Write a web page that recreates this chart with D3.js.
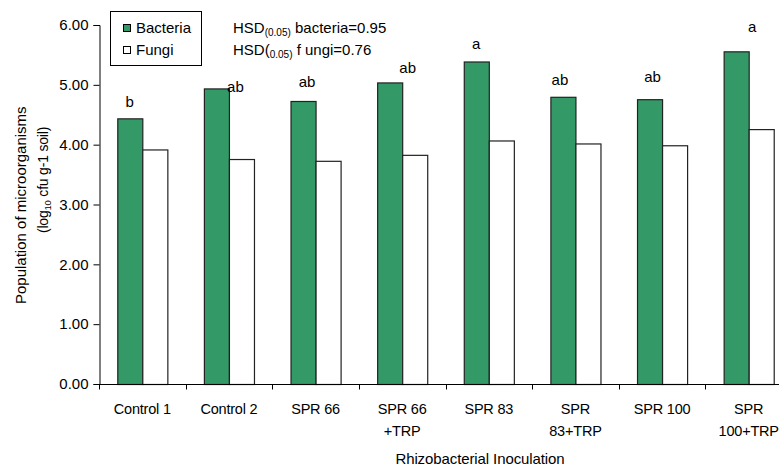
<!DOCTYPE html>
<html>
<head>
<meta charset="utf-8">
<script src="https://cdn.jsdelivr.net/npm/d3@7"></script>
<style>
  html, body { margin: 0; padding: 0; background: #fff; }
  svg { display: block; font-family: "Liberation Sans", Arial, sans-serif; }
</style>
</head>
<body>
<svg id="chart" width="779" height="468"></svg>
<script>
// Treatments along the x axis (two-line labels use "\n")
const categories = ["Control 1", "Control 2", "SPR 66", "SPR 66\n+TRP", "SPR 83", "SPR\n83+TRP", "SPR 100", "SPR\n100+TRP"];
const seriesNames = ["Bacteria", "Fungi"];
// log10 cfu g-1 soil
const bacteria = [4.44, 4.94, 4.73, 5.04, 5.39, 4.80, 4.76, 5.56];
const fungi    = [3.92, 3.76, 3.73, 3.83, 4.07, 4.02, 3.99, 4.26];
// Tukey grouping letters for bacteria
const letters  = ["b", "ab", "ab", "ab", "a", "ab", "ab", "a"];
const yTicks   = [0, 1, 2, 3, 4, 5, 6];

const FONT = 15;
const svg = d3.select("#chart");
const colors = { Bacteria: "#339966", Fungi: "#ffffff" };

const x0 = d3.scaleBand().domain(categories).range([99, 792]).padding(0);
const x1 = d3.scaleBand().domain(seriesNames)
  .range([x0.bandwidth() * 0.211, x0.bandwidth() * 0.789]).padding(0);
const y = d3.scaleLinear().domain([0, 6]).range([384, 25]);

// Bars
const rows = categories.map((c, i) => ({ cat: c, vals: [
  { key: "Bacteria", v: bacteria[i] }, { key: "Fungi", v: fungi[i] } ] }));

const groups = svg.append("g").selectAll("g").data(rows).join("g")
  .attr("transform", d => `translate(${x0(d.cat)},0)`);
groups.selectAll("rect").data(d => d.vals).join("rect")
  .attr("x", d => x1(d.key) + 0.5)
  .attr("y", d => y(d.v) + 0.5)
  .attr("width", x1.bandwidth())
  .attr("height", d => y(0) - y(d.v))
  .attr("fill", d => colors[d.key])
  .attr("stroke", "#222")
  .attr("stroke-width", 1.2);

// Y axis
const yAxis = d3.axisLeft(y).tickValues(yTicks).tickFormat(d3.format(".2f")).tickSize(6).tickPadding(5);
const gy = svg.append("g").attr("transform", "translate(99.5,0)").call(yAxis);
gy.select(".domain").attr("stroke", "#000");
gy.selectAll(".tick line").attr("stroke", "#000");
gy.selectAll(".tick text").attr("font-size", FONT).attr("fill", "#000")
  .attr("font-family", "Liberation Sans, Arial, sans-serif");

// X axis: ticks at category boundaries
const gx = svg.append("g").attr("transform", "translate(0,384.5)");
gx.append("line").attr("x1", 99).attr("x2", 792).attr("stroke", "#000");
gx.selectAll("line.tk").data(categories).join("line").attr("class", "tk")
  .attr("x1", d => Math.round(x0(d)) + 0.5).attr("x2", d => Math.round(x0(d)) + 0.5)
  .attr("y1", 0).attr("y2", 5).attr("stroke", "#000");

// Category labels
const catText = svg.append("g").selectAll("text").data(categories).join("text")
  .attr("x", d => x0(d) + x0.bandwidth() / 2)
  .attr("y", 414)
  .attr("text-anchor", "middle")
  .attr("font-size", 14.5)
  .attr("letter-spacing", -0.2)
  .attr("fill", "#000");
catText.selectAll("tspan").data(d => d.split("\n")).join("tspan")
  .attr("x", function () { return d3.select(this.parentNode).attr("x"); })
  .attr("dy", (d, i) => i === 0 ? 0 : 22)
  .text(d => d);

// X axis title
svg.append("text").attr("x", 480).attr("y", 464).attr("text-anchor", "middle")
  .attr("font-size", FONT).attr("letter-spacing", -0.1).text("Rhizobacterial Inoculation");

// Y axis title (first line runs past its text box and is cut)
svg.append("defs").append("clipPath").attr("id", "ytclip")
  .append("rect").attr("x", 0).attr("y", 101).attr("width", 60).attr("height", 360);
const yt = svg.append("g").attr("clip-path", "url(#ytclip)");
yt.append("text").attr("transform", "translate(26,304) rotate(-90)")
  .attr("font-size", FONT).text("Population of microorganisms");
const yt2 = svg.append("text").attr("transform", "translate(48,180) rotate(-90)")
  .attr("text-anchor", "middle").attr("font-size", 14).attr("letter-spacing", -0.2);
yt2.append("tspan").text("(log");
yt2.append("tspan").attr("font-size", 9.5).attr("dy", 3).text("10");
yt2.append("tspan").attr("dy", -3).text(" cfu g-1 soil)");

// Grouping letters above bacteria bars (hand-placed nudges)
const nudge = [[0, -11], [19, 4], [4, -14], [18, -9], [0, -12], [-3, -12], [3, -17], [16, -19]];
svg.append("g").selectAll("text").data(letters).join("text")
  .attr("x", (d, i) => x0(categories[i]) + x1("Bacteria") + x1.bandwidth() / 2 + nudge[i][0])
  .attr("y", (d, i) => y(bacteria[i]) + nudge[i][1])
  .attr("text-anchor", "middle").attr("font-size", FONT).text(d => d);

// Legend
const lg = svg.append("g");
lg.append("rect").attr("x", 110.5).attr("y", 11.5).attr("width", 91).attr("height", 54)
  .attr("fill", "#fff").attr("stroke", "#000");
seriesNames.forEach((s, i) => {
  lg.append("rect").attr("x", 123.5).attr("y", 24.5 + i * 22).attr("width", 7).attr("height", 7)
    .attr("fill", colors[s]).attr("stroke", "#000");
  lg.append("text").attr("x", 136).attr("y", 33 + i * 22).attr("font-size", FONT)
    .text(s);
});

// HSD annotation
const hsd1 = svg.append("text").attr("x", 233).attr("y", 33).attr("font-size", FONT);
hsd1.append("tspan").text("HSD");
hsd1.append("tspan").attr("font-size", 10).attr("dy", 3).text("(0.05)");
hsd1.append("tspan").attr("dy", -3).text(" bacteria=0.95");
const hsd2 = svg.append("text").attr("x", 233).attr("y", 55).attr("font-size", FONT);
hsd2.append("tspan").text("HSD(");
hsd2.append("tspan").attr("font-size", 10).attr("dy", 3).text("0.05)");
hsd2.append("tspan").attr("dy", -3).text(" f ungi=0.76");
</script>
</body>
</html>
